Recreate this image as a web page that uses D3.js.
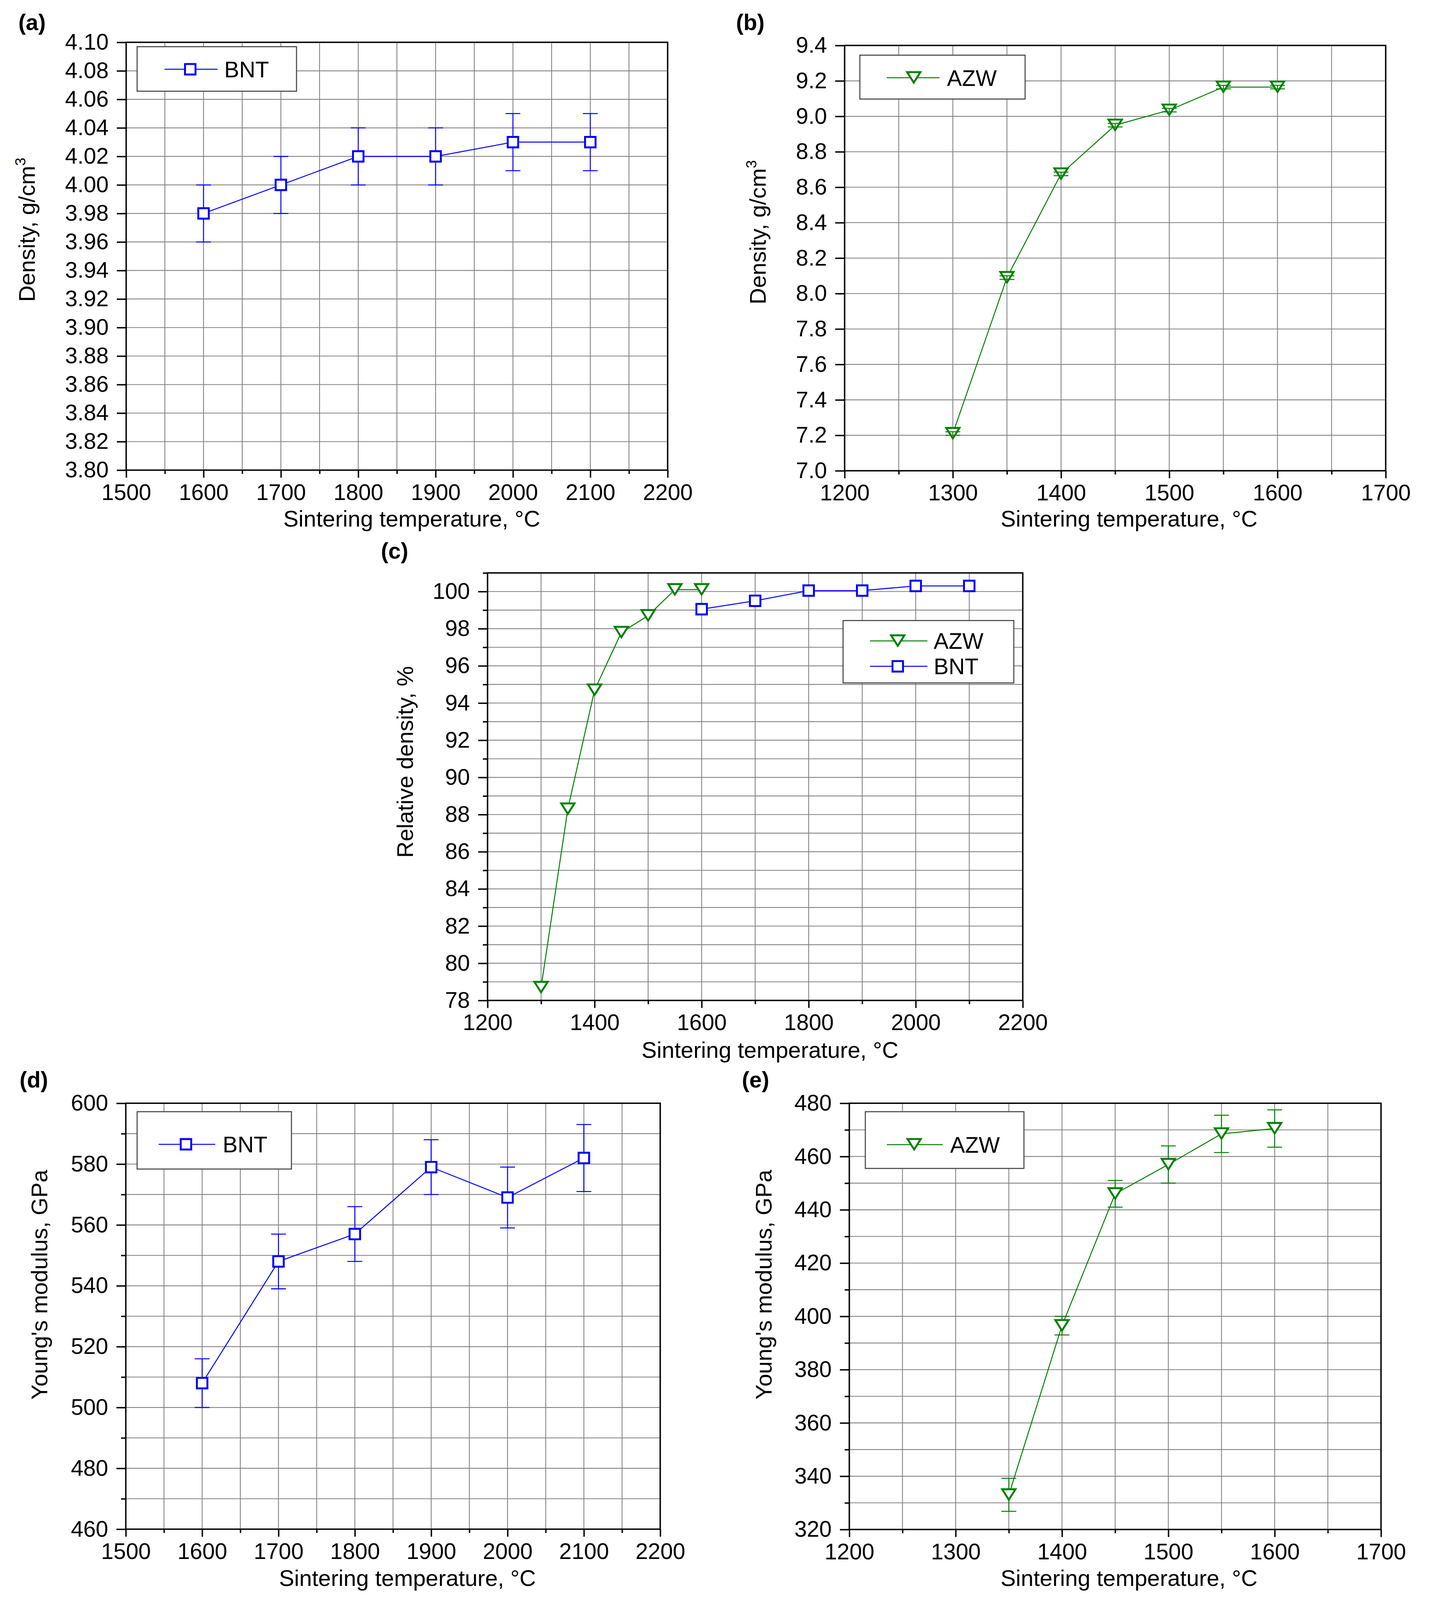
<!DOCTYPE html>
<html><head><meta charset="utf-8">
<script src="https://cdn.jsdelivr.net/npm/d3@7"></script>
<style>html,body{margin:0;padding:0;background:#fff;overflow:hidden} svg{display:block}</style>
</head><body>
<svg id="chart"></svg>
<script>
// ---------------- DATA ----------------
// (a) BNT density
const aTemp = [1600, 1700, 1800, 1900, 2000, 2100];
const aDensity = [3.98, 4.00, 4.02, 4.02, 4.03, 4.03];
const aErr = [0.02, 0.02, 0.02, 0.02, 0.02, 0.02];
// (b) AZW density
const bTemp = [1300, 1350, 1400, 1450, 1500, 1550, 1600];
const bDensity = [7.21, 8.09, 8.675, 8.95, 9.035, 9.165, 9.165];
const bErr = [0.01, 0.01, 0.01, 0.01, 0.01, 0.01, 0.01];
// (c) relative density
const cAzwTemp = [1300, 1350, 1400, 1450, 1500, 1550, 1600];
const cAzwRel = [78.7, 88.3, 94.7, 97.8, 98.7, 100.1, 100.1];
const cBntTemp = [1600, 1700, 1800, 1900, 2000, 2100];
const cBntRel = [99.05, 99.5, 100.05, 100.05, 100.3, 100.3];
// (d) BNT Young's modulus
const dTemp = [1600, 1700, 1800, 1900, 2000, 2100];
const dModulus = [508, 548, 557, 579, 569, 582];
const dErr = [8, 9, 9, 9, 10, 11];
// (e) AZW Young's modulus
const eTemp = [1350, 1400, 1450, 1500, 1550, 1600];
const eModulus = [333, 396.5, 446, 457, 468.5, 470.5];
const eErr = [6.2, 3.5, 5, 7, 7, 7];

// tick values
const xTicksBNT = [1500, 1600, 1700, 1800, 1900, 2000, 2100, 2200];
const xMinorBNT = [1550, 1650, 1750, 1850, 1950, 2050, 2150];
const xTicksAZW = [1200, 1300, 1400, 1500, 1600, 1700];
const xMinorAZW = [1250, 1350, 1450, 1550, 1650];
const xTicksC = [1200, 1400, 1600, 1800, 2000, 2200];
const xMinorC = [1300, 1500, 1700, 1900, 2100];
const yTicksA = [3.80, 3.82, 3.84, 3.86, 3.88, 3.90, 3.92, 3.94, 3.96, 3.98, 4.00, 4.02, 4.04, 4.06, 4.08, 4.10];
const yTicksB = [7.0, 7.2, 7.4, 7.6, 7.8, 8.0, 8.2, 8.4, 8.6, 8.8, 9.0, 9.2, 9.4];
const yTicksC = [78, 80, 82, 84, 86, 88, 90, 92, 94, 96, 98, 100];
const yMinorC = [79, 81, 83, 85, 87, 89, 91, 93, 95, 97, 99, 101];
const yTicksD = [460, 480, 500, 520, 540, 560, 580, 600];
const yMinorD = [470, 490, 510, 530, 550, 570, 590];
const yTicksE = [320, 340, 360, 380, 400, 420, 440, 460, 480];
const yMinorE = [330, 350, 370, 390, 410, 430, 450, 470];

// ---------------- LAYOUT (designed on a 3686 x 5105 canvas, fitted to the viewport) ----------------
const REF_W = 3686, REF_H = 5105;
const W = window.innerWidth || REF_W, H = window.innerHeight || REF_H;
const SX = W / REF_W, SY = H / REF_H, K = Math.sqrt(SX * SY);
const X = v => v * SX, Y = v => v * SY;

const FONT = '"Liberation Sans", Arial, Helvetica, sans-serif';
const FS = 64 * K, FT = 65 * K;
const BLUE = '#0000ff', GREEN = '#008000', GRID = '#828282';
const XT = 'Sintering temperature, \u00b0C';

const svg = d3.select('#chart').attr('width', W).attr('height', H);
svg.append('rect').attr('width', W).attr('height', H).attr('fill', '#fff');

const squarePath = 'M-15,-15H15V15H-15Z';
const triPath = 'M-19,-16L19,-16L0,14Z';

function zip(xs, ys, es) { return xs.map((t, i) => ({ x: t, y: ys[i], e: es ? es[i] : null })); }
// keep a text's visual centre where it is on the reference canvas
const baseY = (bRef, fsRef) => Y(bRef - 0.358 * fsRef) + 0.358 * fsRef * K;
const baseX = (bRef, fsRef) => X(bRef - 0.358 * fsRef) + 0.358 * fsRef * K;

function panel(p) {
  const x = d3.scaleLinear().domain(p.xDomain).range([X(p.L), X(p.R)]);
  const y = d3.scaleLinear().domain(p.yDomain).range([Y(p.B), Y(p.T)]);
  const g = svg.append('g');
  const gridG = g.append('g');

  // grid
  const xg = p.xTicks.concat(p.xMinor).filter(v => v > p.xDomain[0] && v < p.xDomain[1]);
  const yg = p.yTicks.concat(p.yMinor || []).filter(v => v > p.yDomain[0] + 1e-9 && v < p.yDomain[1] - 1e-9);
  gridG.append('g').selectAll('line').data(xg).join('line')
    .attr('x1', d => x(d)).attr('x2', d => x(d)).attr('y1', Y(p.T)).attr('y2', Y(p.B))
    .attr('stroke', GRID).attr('stroke-width', 2.4 * K);
  gridG.append('g').selectAll('line').data(yg).join('line')
    .attr('y1', d => y(d)).attr('y2', d => y(d)).attr('x1', X(p.L)).attr('x2', X(p.R))
    .attr('stroke', GRID).attr('stroke-width', 2.4 * K);

  function styleAxis(sel) {
    sel.attr('font-size', FS).attr('font-family', FONT);
    sel.select('.domain').remove();
    sel.selectAll('line').attr('stroke', '#000').attr('stroke-width', 4 * K);
    sel.selectAll('text').attr('fill', '#000');
  }
  const xTick = 24 * SY, xPad = 95 * SY - 24 * SY - 0.71 * FS;
  // x axis
  g.append('g').attr('transform', `translate(0,${Y(p.B)})`)
    .call(d3.axisBottom(x).tickValues(p.xTicks).tickSize(xTick).tickPadding(xPad).tickFormat(d3.format('d')))
    .call(styleAxis);
  g.append('g').attr('transform', `translate(0,${Y(p.B)})`)
    .call(d3.axisBottom(x).tickValues(p.xMinor).tickSize(12 * SY).tickFormat(''))
    .call(styleAxis);
  // y axis
  g.append('g').attr('transform', `translate(${X(p.L)},0)`)
    .call(d3.axisLeft(y).tickValues(p.yTicks).tickSize(24 * SX).tickPadding(21 * SX).tickFormat(d3.format(p.yFmt)))
    .call(styleAxis);
  if (p.yMinor) {
    g.append('g').attr('transform', `translate(${X(p.L)},0)`)
      .call(d3.axisLeft(y).tickValues(p.yMinor.filter(v => v <= p.yDomain[1])).tickSize(12 * SX).tickFormat(''))
      .call(styleAxis);
  }

  // series
  p.series.forEach(s => {
    const line = d3.line().x(d => x(d.x)).y(d => y(d.y));
    const sg = g.append('g');
    const errG = sg.append('g');
    sg.append('path').datum(s.data).attr('d', line).attr('fill', 'none')
      .attr('stroke', s.color).attr('stroke-width', 2.8 * K);
    const markG = sg.append('g');
    markG.selectAll('path').data(s.data).join('path')
      .attr('d', s.marker).attr('transform', d => `translate(${x(d.x)},${y(d.y)}) scale(${K})`)
      .attr('fill', '#fff').attr('stroke', s.color).attr('stroke-width', 5.5);
    s.data.filter(d => d.e != null).forEach(d => {
      const cx = x(d.x), y1 = y(d.y + d.e), y2 = y(d.y - d.e);
      errG.append('line').attr('x1', cx).attr('x2', cx).attr('y1', y1).attr('y2', y2)
        .attr('stroke', s.color).attr('stroke-width', 2.8 * K);
      [y1, y2].forEach(yy => errG.append('line').attr('x1', cx - 19 * SX).attr('x2', cx + 19 * SX)
        .attr('y1', yy).attr('y2', yy).attr('stroke', s.color).attr('stroke-width', 2.8 * K));
    });
    if (s.errOnTop) errG.raise();
  });

  // frame
  g.append('rect').attr('x', X(p.L)).attr('y', Y(p.T)).attr('width', X(p.R) - X(p.L)).attr('height', Y(p.B) - Y(p.T))
    .attr('fill', 'none').attr('stroke', '#000').attr('stroke-width', 4 * K);

  // legend
  const lg = p.legend;
  g.append('rect').attr('x', X(lg.x0)).attr('y', Y(lg.y0)).attr('width', X(lg.x1) - X(lg.x0)).attr('height', Y(lg.y1) - Y(lg.y0))
    .attr('fill', '#fff').attr('stroke', '#444').attr('stroke-width', 3 * K);
  lg.rows.forEach(r => {
    const s = p.series[r.idx];
    g.append('line').attr('x1', X(lg.l0)).attr('x2', X(lg.l1)).attr('y1', Y(r.y)).attr('y2', Y(r.y))
      .attr('stroke', s.color).attr('stroke-width', 2.8 * K);
    g.append('path').attr('d', s.marker).attr('transform', `translate(${X(lg.m)},${Y(r.y)}) scale(${K})`)
      .attr('fill', '#fff').attr('stroke', s.color).attr('stroke-width', 5.5);
    g.append('text').attr('x', X(lg.t)).attr('y', Y(r.y)).attr('dy', '0.36em')
      .attr('font-family', FONT).attr('font-size', FS).text(s.name);
  });

  // panel label
  g.append('text').attr('x', X(p.lab[0])).attr('y', baseY(p.lab[1], 64)).attr('font-family', FONT)
    .attr('font-size', FS).attr('font-weight', 'bold').text(p.label);
  // x title
  g.append('text').attr('x', X(p.xt[0])).attr('y', baseY(p.xt[1], 65)).attr('text-anchor', 'middle')
    .attr('font-family', FONT).attr('font-size', FT).text(XT);
  // y title
  const yt = g.append('text').attr('transform', `translate(${baseX(p.yt[0], 65)},${Y(p.yt[1])}) rotate(-90)`)
    .attr('text-anchor', 'middle').attr('font-family', FONT).attr('font-size', FT);
  yt.append('tspan').text(p.yTitle);
  if (p.ySup) yt.append('tspan').attr('font-size', 42 * K).attr('dy', -26 * K).text(p.ySup);
}

panel({
  label: '(a)', lab: [47, 93],
  L: 323, R: 1709, T: 135, B: 1500,
  xDomain: [1500, 2200], yDomain: [3.80, 4.10],
  xTicks: xTicksBNT, xMinor: xMinorBNT, yTicks: yTicksA, yMinor: null, yFmt: '.2f',
  xt: [1054, 1677], yt: [91, 733], yTitle: 'Density, g/cm', ySup: '3',
  series: [{ name: 'BNT', color: BLUE, marker: squarePath, data: zip(aTemp, aDensity, aErr) }],
  legend: { x0: 351, y0: 149, x1: 759, y1: 291, l0: 421, l1: 557, m: 487, t: 574, rows: [{ idx: 0, y: 221 }] }
});

panel({
  label: '(b)', lab: [1884, 93],
  L: 2162, R: 3547, T: 145, B: 1502,
  xDomain: [1200, 1700], yDomain: [7.0, 9.4],
  xTicks: xTicksAZW, xMinor: xMinorAZW, yTicks: yTicksB, yMinor: null, yFmt: '.1f',
  xt: [2890, 1677], yt: [1962, 741], yTitle: 'Density, g/cm', ySup: '3',
  series: [{ name: 'AZW', color: GREEN, marker: triPath, errOnTop: true, data: zip(bTemp, bDensity, bErr) }],
  legend: { x0: 2201, y0: 176, x1: 2624, y1: 316, l0: 2270, l1: 2405, m: 2339, t: 2424, rows: [{ idx: 0, y: 248 }] }
});

panel({
  label: '(c)', lab: [975, 1779],
  L: 1248, R: 2618, T: 1828, B: 3192,
  xDomain: [1200, 2200], yDomain: [78, 101],
  xTicks: xTicksC, xMinor: xMinorC, yTicks: yTicksC, yMinor: yMinorC, yFmt: 'd',
  xt: [1971, 3372], yt: [1059, 2431], yTitle: 'Relative density, %', ySup: null,
  series: [
    { name: 'AZW', color: GREEN, marker: triPath, data: zip(cAzwTemp, cAzwRel, null) },
    { name: 'BNT', color: BLUE, marker: squarePath, data: zip(cBntTemp, cBntRel, null) }
  ],
  legend: { x0: 2158, y0: 1980, x1: 2595, y1: 2179, l0: 2227, l1: 2374, m: 2298, t: 2390,
            rows: [{ idx: 0, y: 2045 }, { idx: 1, y: 2126 }] }
});

panel({
  label: '(d)', lab: [50, 3467],
  L: 322, R: 1690, T: 3520, B: 4879,
  xDomain: [1500, 2200], yDomain: [460, 600],
  xTicks: xTicksBNT, xMinor: xMinorBNT, yTicks: yTicksD, yMinor: yMinorD, yFmt: 'd',
  xt: [1043, 5058], yt: [123, 4099], yTitle: "Young's modulus, GPa", ySup: null,
  series: [{ name: 'BNT', color: BLUE, marker: squarePath, data: zip(dTemp, dModulus, dErr) }],
  legend: { x0: 351, y0: 3547, x1: 746, y1: 3730, l0: 406, l1: 551, m: 476, t: 570, rows: [{ idx: 0, y: 3651 }] }
});

panel({
  label: '(e)', lab: [1899, 3467],
  L: 2174, R: 3535, T: 3520, B: 4880,
  xDomain: [1200, 1700], yDomain: [320, 480],
  xTicks: xTicksAZW, xMinor: xMinorAZW, yTicks: yTicksE, yMinor: yMinorE, yFmt: 'd',
  xt: [2890, 5058], yt: [1977, 4099], yTitle: "Young's modulus, GPa", ySup: null,
  series: [{ name: 'AZW', color: GREEN, marker: triPath, data: zip(eTemp, eModulus, eErr) }],
  legend: { x0: 2215, y0: 3547, x1: 2621, y1: 3728, l0: 2270, l1: 2413, m: 2340, t: 2432, rows: [{ idx: 0, y: 3652 }] }
});
</script>
</body></html>
